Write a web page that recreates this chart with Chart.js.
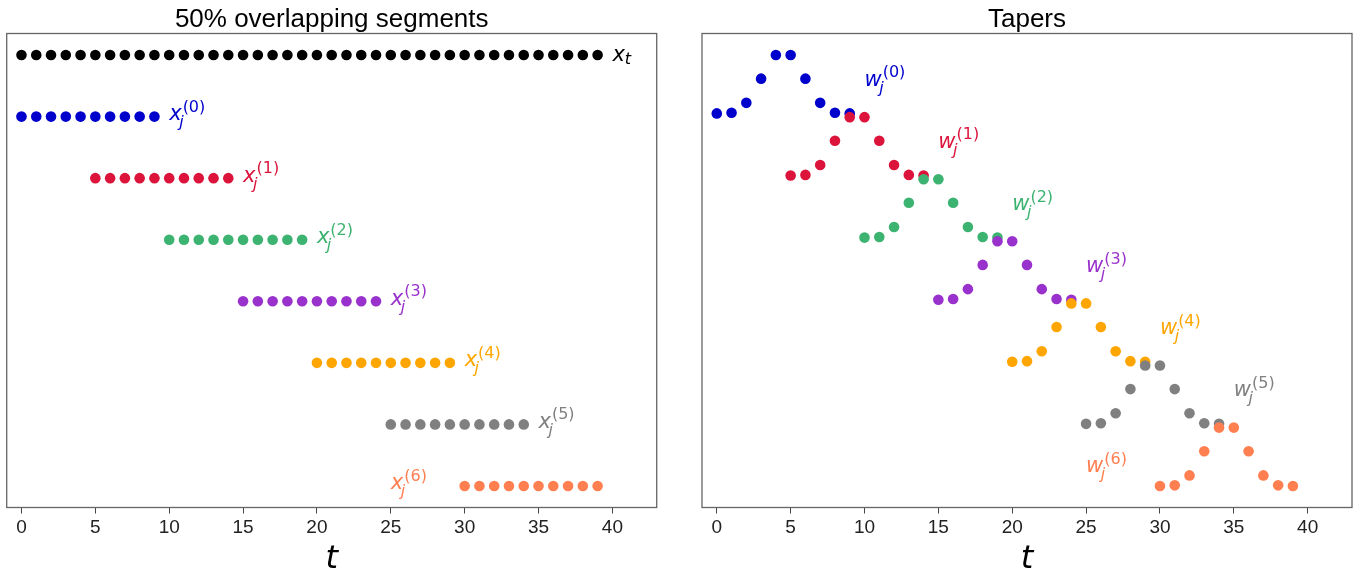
<!DOCTYPE html>
<html lang="en">
<head>
<meta charset="UTF-8" />
<title>Overlapping segments and tapers</title>
<script src="https://cdn.jsdelivr.net/npm/chart.js"></script>
<style>
  body { margin: 0; background: #fff; width: 1369px; height: 576px; overflow: hidden; position: relative; }
  .panel { position: absolute; top: 0; height: 576px; }
</style>
</head>
<body>
<div class="panel" style="left:0;width:684px"><canvas id="segChart"></canvas></div>
<div class="panel" style="left:684px;width:685px"><canvas id="taperChart"></canvas></div>

<script>
// time index of the full signal
const tSignal = [0, 1, 2, 3, 4, 5, 6, 7, 8, 9, 10, 11, 12, 13, 14, 15, 16, 17, 18, 19,
                 20, 21, 22, 23, 24, 25, 26, 27, 28, 29, 30, 31, 32, 33, 34, 35, 36, 37, 38, 39];

// time index of each 10-sample segment (50% overlap)
const tSeg = [
  [0, 1, 2, 3, 4, 5, 6, 7, 8, 9],
  [5, 6, 7, 8, 9, 10, 11, 12, 13, 14],
  [10, 11, 12, 13, 14, 15, 16, 17, 18, 19],
  [15, 16, 17, 18, 19, 20, 21, 22, 23, 24],
  [20, 21, 22, 23, 24, 25, 26, 27, 28, 29],
  [25, 26, 27, 28, 29, 30, 31, 32, 33, 34],
  [30, 31, 32, 33, 34, 35, 36, 37, 38, 39]
];

// row each segment sits on in the left panel (signal row first)
const signalRow = 0;
const segRow = [-1, -2, -3, -4, -5, -6, -7];

// tapered segments, offset downwards one row each
const taper0 = [-1.00, -0.99, -0.83, -0.44, -0.06, -0.06, -0.44, -0.83, -0.99, -1.00];
const taper1 = [-2.00, -1.99, -1.83, -1.44, -1.06, -1.06, -1.44, -1.83, -1.99, -2.00];
const taper2 = [-3.00, -2.99, -2.83, -2.44, -2.06, -2.06, -2.44, -2.83, -2.99, -3.00];
const taper3 = [-4.00, -3.99, -3.83, -3.44, -3.06, -3.06, -3.44, -3.83, -3.99, -4.00];
const taper4 = [-5.00, -4.99, -4.83, -4.44, -4.06, -4.06, -4.44, -4.83, -4.99, -5.00];
const taper5 = [-6.00, -5.99, -5.83, -5.44, -5.06, -5.06, -5.44, -5.83, -5.99, -6.00];
const taper6 = [-7.00, -6.99, -6.83, -6.44, -6.06, -6.06, -6.44, -6.83, -6.99, -7.00];
const tapers = [taper0, taper1, taper2, taper3, taper4, taper5, taper6];

const xTickVals = [0, 5, 10, 15, 20, 25, 30, 35, 40];
const segColors = ['#0000CD', '#DC143C', '#3CB371', '#9932CC', '#FFA500', '#808080', '#FF7F50'];

// annotation anchors (t, y) for the math labels
const segLabelT = [10, 15, 20, 25, 30, 35, 25];
const segLabelY = [-1, -2, -3, -4, -5, -6, -7];
const taperLabelT = [10, 15, 20, 25, 30, 35, 25];
const taperLabelY = [-0.5, -1.5, -2.5, -3.5, -4.5, -5.5, -6.72];

function drawMath(ctx, px, py, lab) {
  ctx.fillStyle = lab.color;
  ctx.textAlign = 'left';
  ctx.textBaseline = 'alphabetic';
  const base = py + (lab.sup ? 3.5 : 5.5);
  ctx.font = 'italic 21px "DejaVu Sans"';
  ctx.fillText(lab.main, px, base);
  const w = ctx.measureText(lab.main).width;
  ctx.font = 'italic 16px "DejaVu Sans"';
  if (lab.sup) {
    ctx.fillText(lab.sub, px + w - 2.5, base + 7);
    ctx.font = '16px "DejaVu Sans"';
    ctx.fillText(lab.sup, px + w + 1, base - 8.5);
  } else {
    ctx.fillText(lab.sub, px + w, base + 3);
  }
}

// frame, title, axis label and the math annotations
const decorations = {
  id: 'decorations',
  afterDraw(chart, args, opts) {
    const { ctx, chartArea: a, scales: { x, y } } = chart;
    const cx = (a.left + a.right) / 2;
    ctx.save();
    ctx.strokeStyle = '#666';
    ctx.lineWidth = 1.3;
    ctx.strokeRect(a.left, a.top, a.right - a.left, a.bottom - a.top);

    ctx.fillStyle = '#000';
    ctx.textAlign = 'center';
    ctx.textBaseline = 'alphabetic';
    ctx.font = '26px "Liberation Sans"';
    ctx.fillText(opts.title, cx, 26.5);
    ctx.font = 'italic 32px "DejaVu Sans"';
    ctx.fillText('t', cx, 568);

    opts.labels.forEach(l => drawMath(ctx, x.getPixelForValue(l.t), y.getPixelForValue(l.v), l));
    ctx.restore();
  }
};

function panelOptions(padLeft, padRight, yMin, yMax, title, labels) {
  return {
    responsive: true,
    maintainAspectRatio: false,
    devicePixelRatio: 1,
    animation: false,
    events: [],
    layout: { padding: { left: padLeft, right: padRight, top: 33.5, bottom: 0 } },
    plugins: {
      legend: { display: false },
      tooltip: { enabled: false },
      decorations: { title, labels }
    },
    scales: {
      x: {
        type: 'linear',
        min: -1,
        max: 43,
        afterBuildTicks: s => { s.ticks = xTickVals.map(v => ({ value: v })); },
        afterFit: s => { s.height = 68.5; },
        ticks: { font: { family: 'Liberation Sans', size: 19 }, color: '#222', padding: 3, maxRotation: 0, autoSkip: false },
        grid: { drawOnChartArea: false, drawTicks: true, tickLength: 6, color: '#444' },
        border: { display: false }
      },
      y: { display: false, min: yMin, max: yMax }
    }
  };
}

function scatterSet(ts, ys, color, order) {
  return {
    data: ts.map((t, i) => ({ x: t, y: Array.isArray(ys) ? ys[i] : ys })),
    showLine: false,
    pointRadius: 5.3,
    pointHoverRadius: 5.3,
    pointBorderWidth: 0,
    pointBackgroundColor: color,
    backgroundColor: color,
    order
  };
}

// left panel: signal and its overlapping segments
const segSets = [scatterSet(tSignal, signalRow, '#000', 20)];
tSeg.forEach((ts, i) => segSets.push(scatterSet(ts, segRow[i], segColors[i], 10 - i)));

const segLabels = [{ t: 40, v: 0, main: 'x', sub: 't', color: '#000' }];
segLabelT.forEach((t, i) => segLabels.push({ t, v: segLabelY[i], main: 'x', sub: 'j', sup: '(' + i + ')', color: segColors[i] }));

new Chart(document.getElementById('segChart'), {
  type: 'scatter',
  data: { datasets: segSets },
  options: panelOptions(6.7, 27.3, -7.35, 0.35, '50% overlapping segments', segLabels),
  plugins: [decorations]
});

// right panel: tapers
const taperSets = tSeg.map((ts, i) => scatterSet(ts, tapers[i], segColors[i], 10 - i));
const taperLabels = taperLabelT.map((t, i) => ({ t, v: taperLabelY[i], main: 'w', sub: 'j', sup: '(' + i + ')', color: segColors[i] }));

new Chart(document.getElementById('taperChart'), {
  type: 'scatter',
  data: { datasets: taperSets },
  options: panelOptions(18, 17, -7.347, 0.287, 'Tapers', taperLabels),
  plugins: [decorations]
});
</script>
</body>
</html>
